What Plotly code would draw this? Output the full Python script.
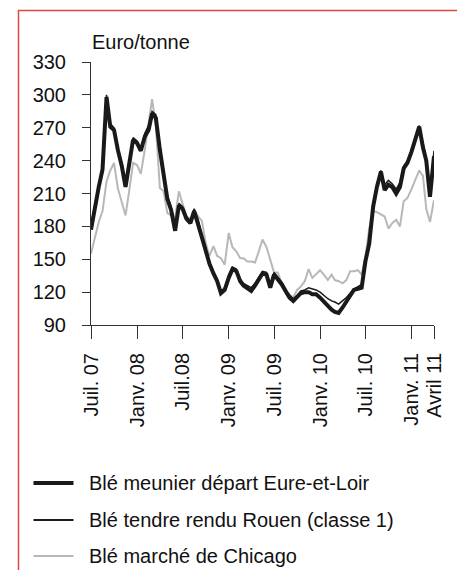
import plotly.graph_objects as go

# ---- categories: semi-monthly observation dates (1st and 16th of each month) ----
dates = []
for yr in range(2007, 2012):
    for mo in range(1, 13):
        if (yr, mo) < (2007, 7) or (yr, mo) > (2011, 3):
            continue
        dates.append(f"{yr}-{mo:02d}-01")
        dates.append(f"{yr}-{mo:02d}-16")
dates.append("2011-04-01")

# ---- series values (Euro/tonne) ----
eure_loir = [177, 198, 216, 232, 298, 271, 268, 250, 235, 216,
             238, 259, 256, 249, 262, 268, 283, 279, 250, 225,
             205, 195, 176, 199, 196, 187, 183, 194, 183, 170,
             158, 146, 137, 130, 119, 122, 133, 141, 139, 130,
             126, 124, 121, 126, 131, 137, 136, 124, 136, 132,
             127, 121, 115, 112, 115, 119, 120, 120, 118, 118,
             115, 111, 107, 104, 102, 101, 106, 111, 116, 122,
             123, 124, 148, 164, 198, 216, 230, 213, 218, 216,
             210, 216, 233, 238, 248, 258, 271, 252, 240, 207,
             244]

rouen = [182, 200, 219, 234, 300, 274, 270, 252, 238, 219,
         240, 261, 258, 251, 265, 272, 285, 282, 254, 229,
         208, 198, 180, 201, 198, 189, 185, 196, 186, 172,
         160, 148, 139, 132, 121, 124, 136, 143, 141, 132,
         128, 126, 124, 128, 133, 139, 138, 127, 138, 134,
         129, 123, 117, 114, 117, 121, 122, 124, 123, 122,
         120, 117, 114, 112, 111, 109, 112, 115, 119, 123,
         125, 127, 150, 166, 200, 218, 231, 218, 222, 219,
         214, 220, 235, 240, 250, 260, 272, 256, 242, 212,
         249]

chicago = [155, 169, 184, 194, 221, 231, 238, 215, 203, 190,
           213, 238, 236, 228, 250, 275, 296, 272, 215, 212,
           192, 190, 188, 212, 200, 189, 187, 195, 189, 185,
           165, 153, 162, 153, 151, 145, 174, 161, 157, 151,
           151, 148, 148, 147, 157, 168, 161, 150, 138, 138,
           128, 121, 118, 115, 122, 125, 130, 141, 133, 136,
           140, 136, 131, 136, 131, 130, 128, 131, 139, 139,
           140, 136, 152, 178, 194, 193, 191, 189, 178, 183,
           186, 180, 203, 206, 214, 222, 231, 226, 196, 184,
           204]

# ---- axis ticks ----
x_tickvals = ["2007-07-01", "2008-01-01", "2008-07-01", "2009-01-01", "2009-07-01",
              "2010-01-01", "2010-07-01", "2011-01-01", "2011-04-01"]
x_ticktext = ["Juil. 07", "Janv. 08", "Juil.08", "Janv. 09", "Juil. 09",
              "Janv. 10", "Juil. 10", "Janv. 11", "Avril 11"]
y_tickvals = [90, 120, 150, 180, 210, 240, 270, 300, 330]

series_names = ["Blé meunier départ Eure-et-Loir",
                "Blé tendre rendu Rouen (classe 1)",
                "Blé marché de Chicago"]
series_colors = ["#1a1a1a", "#1a1a1a", "#b8b8b8"]
series_widths = [4, 1.5, 2]

FONT = "Liberation Sans, Arial, sans-serif"
OFF = 8                      # page body margin of the html page
W, H = 465 - OFF, 570 - OFF  # figure size so that it fits the window
PX0, PX1, PY0, PY1 = 91, 434, 62, 325   # plot area in window pixels
L, T = PX0 - OFF, PY0 - OFF
R, B = W - (PX1 - OFF), H - (PY1 - OFF)
PW, PH = PX1 - PX0, PY1 - PY0


def px_x(px):
    return (px - PX0) / PW


def px_y(py):
    return (PY1 - py) / PH


fig = go.Figure()
# draw order: Chicago below, then Eure-et-Loir, then Rouen on top
for idx, vals in [(2, chicago), (0, eure_loir), (1, rouen)]:
    fig.add_trace(go.Scatter(
        x=dates, y=vals, mode="lines", name=series_names[idx],
        line=dict(color=series_colors[idx], width=series_widths[idx]),
        showlegend=False,
    ))

shapes = [
    # red frame
    dict(type="rect", xref="paper", yref="paper",
         x0=px_x(18.5), x1=px_x(458.5), y0=px_y(600), y1=px_y(10.5),
         line=dict(color="#dc4a44", width=1.5), fillcolor="rgba(0,0,0,0)", layer="below"),
]
annotations = [
    dict(text="Euro/tonne", xref="paper", yref="paper", x=px_x(90), y=px_y(42),
         xanchor="left", yanchor="middle", showarrow=False,
         font=dict(family=FONT, size=20, color="#111111")),
]
legend_rows = [483, 520, 556]
for i, yy in enumerate(legend_rows):
    shapes.append(dict(type="line", xref="paper", yref="paper",
                       x0=px_x(33.5), x1=px_x(73.5), y0=px_y(yy), y1=px_y(yy),
                       line=dict(color=series_colors[i], width=[4, 2, 2][i])))
    annotations.append(dict(text=series_names[i], xref="paper", yref="paper",
                            x=px_x(87), y=px_y(yy), xanchor="left", yanchor="middle",
                            showarrow=False,
                            font=dict(family=FONT, size=20, color="#111111")))

fig.update_layout(
    width=W, height=H,
    margin=dict(l=L, r=R, t=T, b=B, pad=0),
    paper_bgcolor="white", plot_bgcolor="white",
    font=dict(family=FONT, size=20, color="#111111"),
    shapes=shapes, annotations=annotations,
    xaxis=dict(type="date", range=["2007-07-01", "2011-04-01"],
               tickmode="array", tickvals=x_tickvals, ticktext=x_ticktext,
               tickangle=-90, ticks="outside", ticklen=13, tickwidth=1,
               tickcolor="#333333", showline=True, linecolor="#333333", linewidth=1,
               showgrid=False, zeroline=False, ticklabelstandoff=6,
               tickfont=dict(family=FONT, size=20, color="#111111")),
    yaxis=dict(range=[90, 330], tickmode="array", tickvals=y_tickvals,
               ticks="outside", ticklen=8, tickwidth=1, tickcolor="#333333",
               showline=True, linecolor="#333333", linewidth=1,
               showgrid=False, zeroline=False, ticklabelstandoff=12,
               tickfont=dict(family=FONT, size=20, color="#111111")),
)

fig.write_html("out.html")
